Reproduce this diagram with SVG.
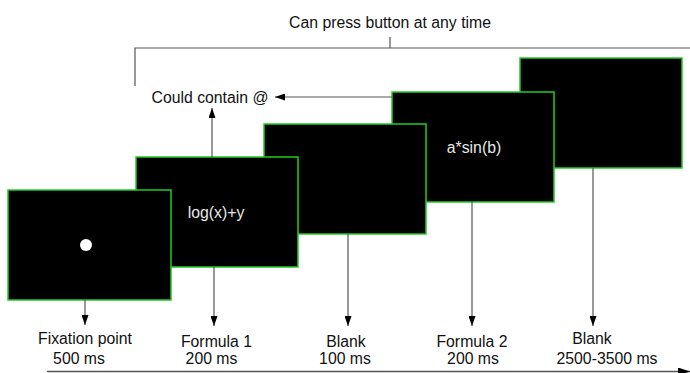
<svg xmlns="http://www.w3.org/2000/svg" width="690" height="373" viewBox="0 0 690 373">
<defs>
<marker id="ah" viewBox="0 0 10 7" refX="10" refY="3.5" markerWidth="10" markerHeight="7" markerUnits="userSpaceOnUse" orient="auto">
<path d="M0,0 L10,3.5 L0,7 z" fill="#000"/>
</marker>
<marker id="ah2" viewBox="0 0 12 8" refX="12" refY="4" markerWidth="12" markerHeight="8" markerUnits="userSpaceOnUse" orient="auto">
<path d="M0,0 L12,4 L0,8 z" fill="#000"/>
</marker>
<style>
.scr{fill:#000;stroke:#22cc22;stroke-width:1.5}
.lbl{font-family:"Liberation Sans",Arial,sans-serif;font-size:15.8px;fill:#111;text-anchor:middle}
.in{font-family:"Liberation Sans",Arial,sans-serif;font-size:15.8px;fill:#e8e8e8;text-anchor:middle}
.ln{stroke:#555;stroke-width:1.2;fill:none}
.ar{stroke:#555;stroke-width:1.2;fill:none;marker-end:url(#ah)}
</style>
</defs>
<rect width="690" height="373" fill="#fff"/>
<g id="connectors-back">
<path class="ln" d="M135,86 V48 H690 M390,48 V37"/>
</g>
<g id="blank2"><rect class="scr" x="520" y="58" width="162" height="110"/></g>
<g id="formula2"><rect class="scr" x="392" y="92" width="162" height="110"/><text class="in" x="474" y="153">a*sin(b)</text></g>
<g id="blank1"><rect class="scr" x="264" y="124" width="162" height="110"/></g>
<g id="formula1"><rect class="scr" x="136" y="157" width="162" height="110"/><text class="in" x="216" y="218">log(x)+y</text></g>
<g id="fixation"><rect class="scr" x="8" y="190" width="163" height="110"/><circle cx="86" cy="245" r="6" fill="#fff"/></g>
<g id="connectors">
<path class="ar" d="M85,300 V325"/>
<path class="ar" d="M214,267 V326"/>
<path class="ar" d="M348,234 V326"/>
<path class="ar" d="M472,202 V326"/>
<path class="ar" d="M593,168 V326"/>
<path class="ar" d="M212,157 V108"/>
<path class="ar" d="M392,97 H275"/>
<path stroke="#555" stroke-width="1.5" fill="none" marker-end="url(#ah2)" d="M47,371.5 H690"/>
</g>
<g id="labels">
<text class="lbl" x="390" y="28">Can press button at any time</text>
<text class="lbl" x="210" y="103">Could contain @</text>
<text class="lbl" x="85" y="344">Fixation point</text>
<text class="lbl" x="79" y="364">500 ms</text>
<text class="lbl" x="216.5" y="347">Formula 1</text>
<text class="lbl" x="211.5" y="364">200 ms</text>
<text class="lbl" x="346" y="347">Blank</text>
<text class="lbl" x="345" y="364">100 ms</text>
<text class="lbl" x="472" y="347">Formula 2</text>
<text class="lbl" x="473" y="364">200 ms</text>
<text class="lbl" x="592" y="344">Blank</text>
<text class="lbl" x="607" y="364">2500-3500 ms</text>
</g>
</svg>
